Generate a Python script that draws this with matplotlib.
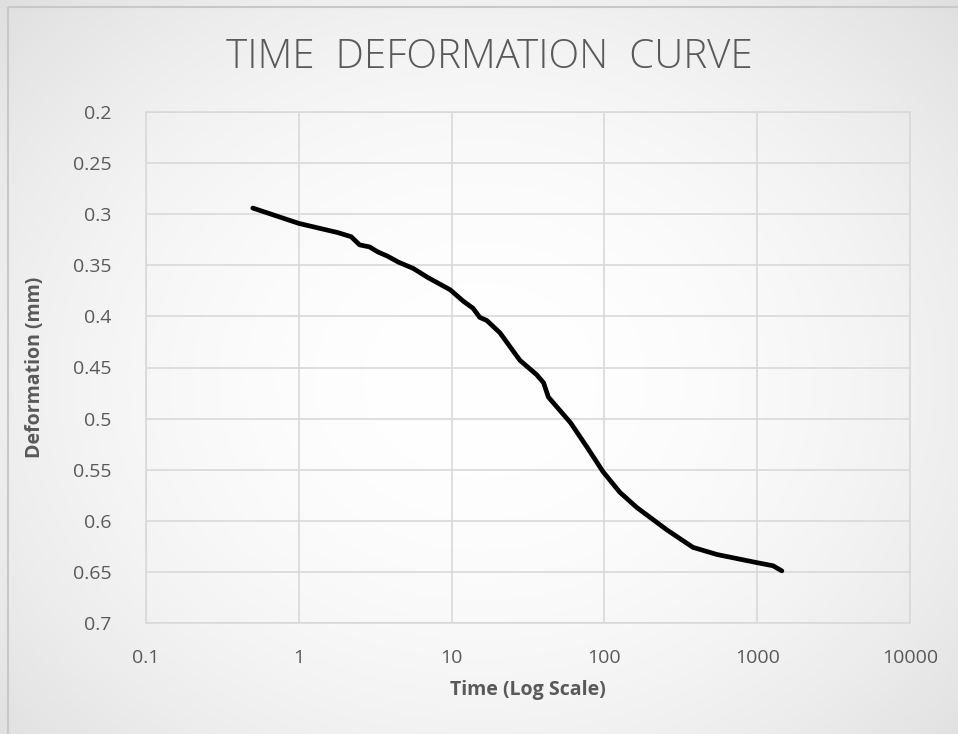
import numpy as np
import matplotlib
matplotlib.use("Agg")
import matplotlib.pyplot as plt
from matplotlib import font_manager
from matplotlib.patches import Rectangle
from matplotlib.ticker import FixedLocator, FixedFormatter, NullLocator

# data
time = [0.5, 1, 1.8, 2.2, 2.5, 2.9, 3.3, 3.8, 4.5, 5.6, 7, 9.8, 11.9, 13.8,
        15.3, 17, 20.7, 28, 36, 40, 43, 60, 77, 98, 126, 163, 257, 380, 546,
        1000, 1270, 1450]
deformation = [0.294, 0.309, 0.318, 0.322, 0.330, 0.332, 0.337, 0.341, 0.347,
               0.353, 0.362, 0.374, 0.385, 0.392, 0.401, 0.404, 0.416, 0.443,
               0.457, 0.465, 0.479, 0.504, 0.528, 0.552, 0.572, 0.587, 0.609,
               0.626, 0.633, 0.641, 0.644, 0.649]

x_ticks = [0.1, 1, 10, 100, 1000, 10000]
x_labels = ["0.1", "1", "10", "100", "1000", "10000"]
y_ticks = [0.2, 0.25, 0.3, 0.35, 0.4, 0.45, 0.5, 0.55, 0.6, 0.65, 0.7]
y_labels = ["0.2", "0.25", "0.3", "0.35", "0.4", "0.45", "0.5", "0.55", "0.6", "0.65", "0.7"]

# narrow font to stand in for Calibri if it is there
names = {f.name for f in font_manager.fontManager.ttflist}
label_font = "Liberation Sans Narrow" if "Liberation Sans Narrow" in names else "Open Sans"

W, H = 958, 734
fig = plt.figure(figsize=(W / 100, H / 100), dpi=100)

# radial gradient background like the Excel chart area
bg = fig.add_axes([0, 0, 1, 1])
yy, xx = np.mgrid[0:H, 0:W]
r = np.sqrt(((xx - 480) / 620.0) ** 2 + ((yy - 380) / 520.0) ** 2)
shade = 1.0 - 0.11 * np.clip(r, 0, 1.2) ** 2
bg.imshow(np.dstack([shade] * 3), extent=[0, W, H, 0], aspect="auto")
bg.add_patch(Rectangle((8, 7), W + 10, H + 10, fill=False, ec="#c8c8c8", lw=1.5))
bg.set_xlim(0, W)
bg.set_ylim(H, 0)
bg.axis("off")

grey = "#595959"
ax = fig.add_axes([146 / W, 1 - 623 / H, (910 - 146) / W, (623 - 112) / H])
ax.set_facecolor("none")
ax.plot(time, deformation, color="black", lw=3.4, solid_joinstyle="round",
        solid_capstyle="round")

ax.set_xscale("log")
ax.set_xlim(0.1, 10000)
ax.set_ylim(0.7, 0.2)
ax.xaxis.set_major_locator(FixedLocator(x_ticks))
ax.xaxis.set_major_formatter(FixedFormatter(x_labels))
ax.xaxis.set_minor_locator(NullLocator())
ax.set_yticks(y_ticks)
ax.set_yticklabels(y_labels)
ax.grid(True, color="#d9d9d9", lw=1.2)
ax.set_axisbelow(True)
for s in ax.spines.values():
    s.set_color("#d9d9d9")
    s.set_linewidth(1.2)
ax.tick_params(length=0, labelsize=14, labelcolor=grey)
ax.tick_params(axis="x", pad=19)
ax.tick_params(axis="y", pad=25)
for lab in ax.get_xticklabels() + ax.get_yticklabels():
    lab.set_fontfamily(label_font)

fig.text(489 / W, 1 - 57 / H, "TIME  DEFORMATION  CURVE",
         ha="center", va="center", fontsize=29, color=grey,
         family=label_font, fontweight="light")
fig.text(528 / W, 1 - 690 / H, "Time (Log Scale)", ha="center", va="center",
         fontsize=14, color=grey, family=label_font, fontweight="bold")
fig.text(35 / W, 1 - 367 / H, "Deformation (mm)", ha="center", va="center",
         rotation=90, fontsize=14, color=grey, family=label_font, fontweight="bold")

fig.savefig("out.png", dpi=100)
